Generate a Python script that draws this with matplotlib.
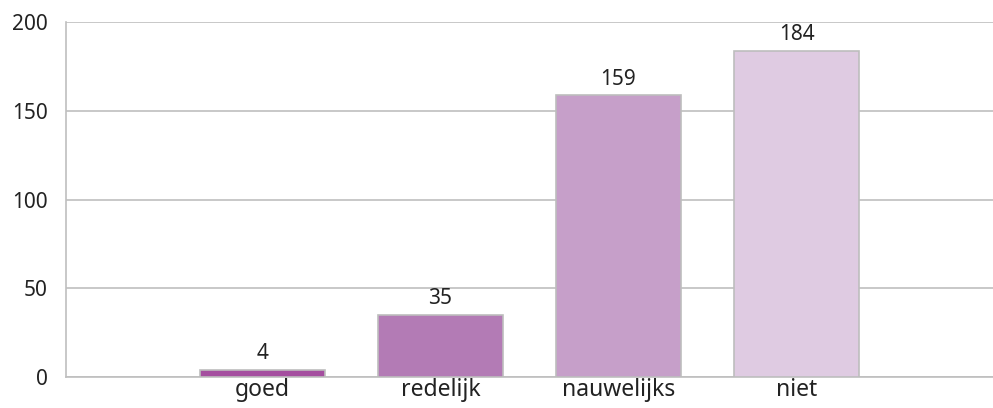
import matplotlib
matplotlib.use("Agg")
import matplotlib.pyplot as plt

categories = ["goed", "redelijk", "nauwelijks", "niet"]
values = [4, 35, 159, 184]
colors = ["#A44E9F", "#B37BB5", "#C69FC9", "#DFCBE2"]
yticks = [0, 50, 100, 150, 200]

plt.rcParams['font.family'] = ['Noto Sans', 'DejaVu Sans']

fig = plt.figure(figsize=(9.93, 4.08), dpi=100)
ax = fig.add_axes([0.0662, 0.076, 0.9338, 0.869])

x = list(range(len(categories)))
bars = ax.bar(x, values, width=0.70, color=colors, edgecolor="#BDBDBD", linewidth=1.2, zorder=3)
for xi, v in zip(x, values):
    ax.annotate(str(v), (xi, v), xytext=(0, 4), textcoords="offset points",
                ha="center", va="bottom", fontsize=15, color="#222222")

ax.set_ylim(0, 200)
ax.set_xlim(-1.106, 4.104)
ax.set_yticks(yticks)
ax.set_yticklabels([str(t) for t in yticks], fontsize=15, color="#222222")
ax.set_xticks(x)
ax.set_xticklabels(categories, fontsize=16.5, color="#222222")
ax.tick_params(axis="both", length=0)
ax.tick_params(axis="y", pad=13)
ax.tick_params(axis="x", pad=1)
ax.yaxis.grid(True, color="#BFBFBF", linewidth=1.2, zorder=0)
for s in ["top", "right"]:
    ax.spines[s].set_visible(False)
for s in ["left", "bottom"]:
    ax.spines[s].set_color("#BFBFBF")
    ax.spines[s].set_linewidth(1.2)
ax.set_axisbelow(True)

fig.savefig("out.png", dpi=100)
